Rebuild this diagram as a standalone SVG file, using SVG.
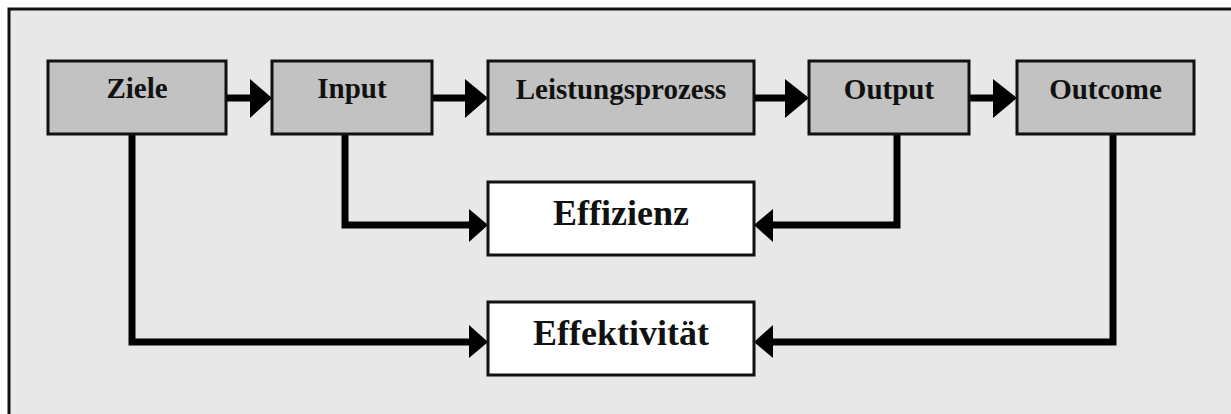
<svg xmlns="http://www.w3.org/2000/svg" width="1231" height="414" viewBox="0 0 1231 414">
<style>
.box{stroke:#111;stroke-width:3}
.g{fill:#c2c2c2}
.w{fill:#fff}
.t{font-family:"Liberation Serif","Times New Roman",serif;font-weight:bold;fill:#111;text-anchor:middle}
.s{font-size:29px}
.l{font-size:36px}
.c{fill:none;stroke:#000;stroke-width:7;stroke-linejoin:miter;stroke-linecap:butt}
.h{fill:#000}
</style>
<rect x="0" y="0" width="1231" height="414" fill="#fff"/>
<rect x="9" y="9" width="1240" height="420" fill="#e8e8e8" stroke="#111" stroke-width="3"/>
<g id="connectors">
<path class="c" d="M226 98H252"/>
<polygon class="h" points="250,79 272,98 250,118"/>
<path class="c" d="M432 98H467"/>
<polygon class="h" points="465,79 488,98 465,118"/>
<path class="c" d="M754 98H787"/>
<polygon class="h" points="785,79 809,98 785,118"/>
<path class="c" d="M969 98H995"/>
<polygon class="h" points="993,79 1017,98 993,118"/>
<path class="c" d="M345 134V225H471"/>
<polygon class="h" points="469,209 488,225 469,242"/>
<path class="c" d="M897 134V225H771"/>
<polygon class="h" points="773,209 754,225 773,242"/>
<path class="c" d="M132 134V342H471"/>
<polygon class="h" points="469,325 488,342 469,358"/>
<path class="c" d="M1113 134V342H771"/>
<polygon class="h" points="773,325 754,342 773,358"/>
</g>
<g id="ziele"><rect class="box g" x="48" y="61" width="178" height="73"/><text class="t s" x="137" y="98">Ziele</text></g>
<g id="input"><rect class="box g" x="272" y="61" width="160" height="73"/><text class="t s" x="352" y="98">Input</text></g>
<g id="leistungsprozess"><rect class="box g" x="488" y="61" width="266" height="73"/><text class="t s" x="621" y="99">Leistungsprozess</text></g>
<g id="output"><rect class="box g" x="809" y="61" width="160" height="73"/><text class="t s" x="889" y="99">Output</text></g>
<g id="outcome"><rect class="box g" x="1017" y="61" width="177" height="73"/><text class="t s" x="1105.5" y="99">Outcome</text></g>
<g id="effizienz"><rect class="box w" x="488" y="182" width="266" height="73"/><text class="t l" x="621" y="225">Effizienz</text></g>
<g id="effektivitaet"><rect class="box w" x="488" y="302" width="266" height="73"/><text class="t l" x="621" y="345">Effektivität</text></g>
</svg>
